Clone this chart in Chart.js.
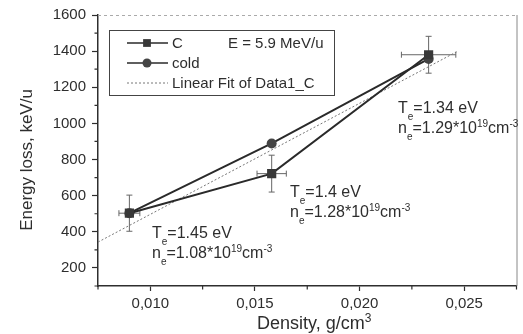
<!DOCTYPE html>
<html>
<head>
<meta charset="utf-8">
<script src="https://cdn.jsdelivr.net/npm/chart.js@4.4.0/dist/chart.umd.min.js"></script>
<style>
  html, body { margin: 0; padding: 0; background: #fff; }
  canvas { display: block; }
</style>
</head>
<body>
<canvas id="chart" width="523" height="334"></canvas>
<script>
// density of the target, g/cm3
const density = [0.0090, 0.0158, 0.0233];
// energy loss, keV/u
const lossC = [503, 722, 1380];
const lossCold = [503, 889, 1357];
// error bars of the C series
const densityErr = [0.0005, 0.0007, 0.0013];
const lossErr = [100, 102, 102];
// linear fit of Data1_C (end points of the drawn line)
const fitDensity = [0.0075, 0.0247];
const fitLoss = [343, 1400];

// axis ticks
const xTicks = [0.010, 0.015, 0.020, 0.025];
const xMinor = [0.0075, 0.0125, 0.0175, 0.0225, 0.0275];
const yTicks = [200, 400, 600, 800, 1000, 1200, 1400, 1600];
const yMinor = [100, 300, 500, 700, 900, 1100, 1300, 1500];

// plasma parameters written next to each point
const tempLabels = ['1.45', '1.4', '1.34'];
const neLabels = ['1.08', '1.28', '1.29'];
const energyNote = 'E = 5.9 MeV/u';

const FONT = '"Liberation Sans", Arial, sans-serif';
const INK = '#2e2e2e';

// where the text blocks sit (pixels)
const notePos = [[152, 238], [290, 197], [398, 113]];
const legendBox = { left: 109, top: 30, right: 334, bottom: 95 };

function drawRich(ctx, x, y, parts, size) {
  let cx = x;
  parts.forEach(p => {
    const s = (p.sub || p.sup) ? Math.round(size * 0.65) : size;
    ctx.font = s + 'px ' + FONT;
    const dy = p.sub ? size * 0.45 : p.sup ? -size * 0.4 : 0;
    ctx.fillText(p.t, cx, y + dy);
    cx += ctx.measureText(p.t).width;
  });
}

function drawMarker(ctx, style, x, y, r) {
  ctx.beginPath();
  if (style === 'rect') {
    const s = r * Math.SQRT1_2;
    ctx.rect(x - s, y - s, 2 * s, 2 * s);
  } else {
    ctx.arc(x, y, r, 0, Math.PI * 2);
  }
  ctx.fill();
}

// error bars under the C points
const errorBars = {
  id: 'errorBars',
  beforeDatasetsDraw(chart) {
    const { ctx, scales: { x, y } } = chart;
    ctx.save();
    ctx.strokeStyle = '#666';
    ctx.lineWidth = 1;
    density.forEach((d, i) => {
      const px = x.getPixelForValue(d);
      const py = y.getPixelForValue(lossC[i]);
      const x0 = x.getPixelForValue(d - densityErr[i]);
      const x1 = x.getPixelForValue(d + densityErr[i]);
      const y0 = y.getPixelForValue(lossC[i] + lossErr[i]);
      const y1 = y.getPixelForValue(lossC[i] - lossErr[i]);
      ctx.beginPath();
      ctx.moveTo(px, y0); ctx.lineTo(px, y1);
      ctx.moveTo(px - 3, y0); ctx.lineTo(px + 3, y0);
      ctx.moveTo(px - 3, y1); ctx.lineTo(px + 3, y1);
      ctx.moveTo(x0, py); ctx.lineTo(x1, py);
      ctx.moveTo(x0, py - 3); ctx.lineTo(x0, py + 3);
      ctx.moveTo(x1, py - 3); ctx.lineTo(x1, py + 3);
      ctx.stroke();
    });
    ctx.restore();
  }
};

// minor ticks, frame, titles, legend and the notes
const decorations = {
  id: 'decorations',
  afterDraw(chart) {
    const { ctx, chartArea: a, scales: { x, y } } = chart;
    ctx.save();

    // faint top and right frame
    ctx.strokeStyle = '#aaa';
    ctx.lineWidth = 1;
    ctx.setLineDash([3, 3]);
    ctx.beginPath();
    ctx.moveTo(a.left, a.top + 0.5); ctx.lineTo(a.right, a.top + 0.5);
    ctx.stroke();
    ctx.setLineDash([]);
    ctx.strokeStyle = '#888';
    ctx.beginPath();
    ctx.moveTo(a.right + 0.5, a.top); ctx.lineTo(a.right + 0.5, a.bottom);
    ctx.stroke();

    // minor ticks
    ctx.strokeStyle = INK;
    ctx.lineWidth = 1.2;
    ctx.beginPath();
    yMinor.forEach(v => {
      const py = y.getPixelForValue(v);
      ctx.moveTo(a.left - 3.5, py); ctx.lineTo(a.left, py);
    });
    xMinor.forEach(v => {
      const px = x.getPixelForValue(v);
      ctx.moveTo(px, a.bottom); ctx.lineTo(px, a.bottom + 3.5);
    });
    ctx.stroke();

    ctx.fillStyle = INK;
    ctx.textBaseline = 'alphabetic';
    ctx.textAlign = 'left';

    // axis titles
    ctx.save();
    ctx.translate(27, 160);
    ctx.rotate(-Math.PI / 2);
    ctx.font = '17px ' + FONT;
    ctx.textAlign = 'center';
    ctx.textBaseline = 'middle';
    ctx.fillText('Energy loss, keV/u', 0, 0);
    ctx.restore();

    const xt = [{ t: 'Density, g/cm' }, { t: '3', sup: true }];
    let w = 0;
    xt.forEach(p => {
      ctx.font = (p.sup ? 12 : 18) + 'px ' + FONT;
      w += ctx.measureText(p.t).width;
    });
    drawRich(ctx, (a.left + a.right) / 2 + 7 - w / 2, 329, xt, 18);

    // legend
    ctx.strokeStyle = '#444';
    ctx.lineWidth = 1;
    ctx.strokeRect(legendBox.left + 0.5, legendBox.top + 0.5,
      legendBox.right - legendBox.left, legendBox.bottom - legendBox.top);
    chart.data.datasets.forEach((ds, i) => {
      const ry = legendBox.top + 13 + i * 20;
      ctx.strokeStyle = ds.borderColor;
      ctx.lineWidth = ds.borderDash ? 1 : 1.5;
      ctx.setLineDash(ds.borderDash || []);
      ctx.beginPath();
      ctx.moveTo(127, ry); ctx.lineTo(168, ry);
      ctx.stroke();
      ctx.setLineDash([]);
      if (ds.pointRadius) {
        ctx.fillStyle = ds.backgroundColor;
        drawMarker(ctx, ds.pointStyle, 147, ry, ds.pointStyle === 'rect' ? 5.5 : 4.5);
      }
      ctx.fillStyle = INK;
      ctx.font = '15px ' + FONT;
      ctx.textBaseline = 'middle';
      ctx.fillText(ds.label, 172, ry + 1);
      if (i === 0) ctx.fillText(energyNote, 228, ry + 1);
    });

    // plasma parameter notes
    ctx.textBaseline = 'alphabetic';
    tempLabels.forEach((t, i) => {
      const [nx, ny] = notePos[i];
      drawRich(ctx, nx, ny, [{ t: 'T' }, { t: 'e', sub: true }, { t: '=' + t + ' eV' }], 16);
      drawRich(ctx, nx, ny + 20, [
        { t: 'n' }, { t: 'e', sub: true }, { t: '=' + neLabels[i] + '*10' },
        { t: '19', sup: true }, { t: 'cm' }, { t: '-3', sup: true }
      ], 16);
    });

    ctx.restore();
  }
};

const toPoints = (xs, ys) => xs.map((v, i) => ({ x: v, y: ys[i] }));

new Chart(document.getElementById('chart'), {
  type: 'scatter',
  data: {
    datasets: [
      {
        label: 'C',
        data: toPoints(density, lossC),
        showLine: true,
        borderColor: '#2a2a2a',
        backgroundColor: '#383838',
        borderWidth: 2,
        pointStyle: 'rect',
        pointRadius: 6.5,
        pointBorderWidth: 0,
        order: 1
      },
      {
        label: 'cold',
        data: toPoints(density, lossCold),
        showLine: true,
        borderColor: '#2a2a2a',
        backgroundColor: '#444',
        borderWidth: 2,
        pointStyle: 'circle',
        pointRadius: 5,
        pointBorderWidth: 0,
        order: 2
      },
      {
        label: 'Linear Fit of Data1_C',
        data: toPoints(fitDensity, fitLoss),
        showLine: true,
        borderColor: '#777',
        borderWidth: 1,
        borderDash: [2, 2],
        pointRadius: 0,
        order: 3
      }
    ]
  },
  options: {
    responsive: false,
    animation: false,
    devicePixelRatio: 1,
    layout: { padding: { top: 14, right: 4, left: 0, bottom: 0 } },
    plugins: {
      legend: { display: false },
      tooltip: { enabled: false }
    },
    scales: {
      x: {
        type: 'linear',
        min: 0.0075,
        max: 0.0275,
        afterBuildTicks: s => { s.ticks = xTicks.map(v => ({ value: v })); },
        afterFit: s => { s.height = 48; },
        border: { display: true, color: INK, width: 1.5 },
        grid: { drawOnChartArea: false, tickLength: 5, tickColor: INK, tickWidth: 1.2 },
        ticks: {
          color: INK,
          padding: 4,
          maxRotation: 0,
          font: { family: FONT, size: 15 },
          callback: v => v.toFixed(3).replace('.', ',')
        }
      },
      y: {
        type: 'linear',
        min: 100,
        max: 1600,
        afterBuildTicks: s => { s.ticks = yTicks.map(v => ({ value: v })); },
        afterFit: s => { s.width = 98; },
        border: { display: true, color: INK, width: 1.5 },
        grid: { drawOnChartArea: false, tickLength: 6, tickColor: INK, tickWidth: 1.2 },
        ticks: {
          color: INK,
          padding: 6,
          font: { family: FONT, size: 15 },
          callback: v => String(v)
        }
      }
    }
  },
  plugins: [errorBars, decorations]
});
</script>
</body>
</html>
